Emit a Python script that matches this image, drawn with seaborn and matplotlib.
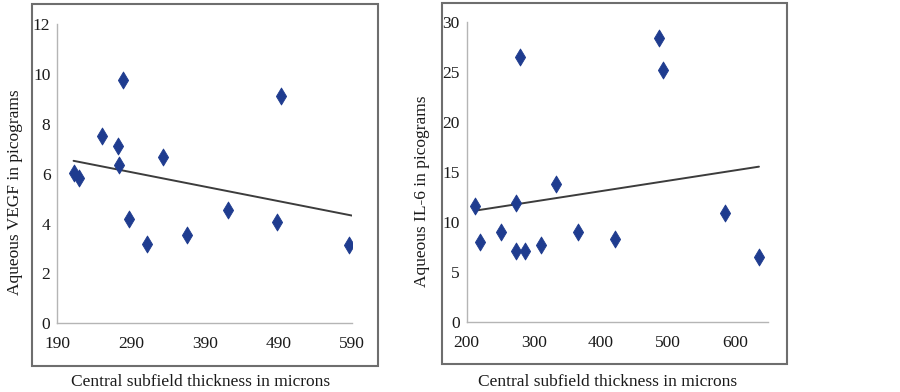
import matplotlib
matplotlib.use("Agg")
import matplotlib.pyplot as plt
from matplotlib.patches import Rectangle
import seaborn as sns
import pandas as pd

# --- data ---
vegf_thickness = [212, 220, 250, 272, 274, 279, 287, 311, 333, 366, 421, 488, 493, 585]
vegf_pg = [6.02, 5.85, 7.53, 7.12, 6.37, 9.76, 4.20, 3.20, 6.68, 3.56, 4.54, 4.06, 9.12, 3.16]
vegf_trend_x = [212, 590]
vegf_trend_y = [6.52, 4.32]

il6_thickness = [212, 220, 251, 273, 274, 279.5, 287.5, 311, 333.5, 366, 421, 487.5, 493.4, 585, 636]
il6_pg = [11.65, 8.0, 9.0, 11.95, 7.1, 26.5, 7.1, 7.75, 13.8, 9.0, 8.35, 28.4, 25.2, 10.95, 6.52]
il6_trend_x = [212, 636]
il6_trend_y = [11.15, 15.55]

vegf_xticks = [190, 290, 390, 490, 590]
vegf_yticks = [0, 2, 4, 6, 8, 10, 12]
il6_xticks = [200, 300, 400, 500, 600]
il6_yticks = [0, 5, 10, 15, 20, 25, 30]

XLABEL = "Central subfield thickness in microns"

sns.set_style("white")
plt.rcParams['font.family'] = ['Liberation Serif', 'DejaVu Serif']

MARKER_COLOR = "#1f3c8f"
AXIS_COLOR = "#b5b5b5"
FS = 12.5

fig = plt.figure(figsize=(9, 3.92), dpi=100)

# outer frames around each panel
fig.add_artist(Rectangle((0.0356, 0.0663), 0.3844, 0.9235, transform=fig.transFigure,
                         fill=False, edgecolor="#6e6e6e", linewidth=1.5))
fig.add_artist(Rectangle((0.4911, 0.0714), 0.3833, 0.9210, transform=fig.transFigure,
                         fill=False, edgecolor="#6e6e6e", linewidth=1.5))

ax1 = fig.add_axes([0.0637, 0.1753, 0.3278, 0.7628])
ax2 = fig.add_axes([0.5186, 0.1778, 0.3351, 0.7660])


def draw_panel(ax, x, y, tx, ty, xlim, ylim, xticks, yticks, ylabel, xlab_pos, ylab_pos):
    df = pd.DataFrame({'x': x, 'y': y})
    sns.scatterplot(data=df, x='x', y='y', ax=ax, marker='d', s=75,
                    color=MARKER_COLOR, edgecolor=MARKER_COLOR, linewidth=0.6, zorder=3)
    ax.plot(tx, ty, color="#3c3c3c", linewidth=1.4, zorder=2)
    ax.set_xlim(*xlim)
    ax.set_ylim(*ylim)
    ax.set_xticks(xticks)
    ax.set_yticks(yticks)
    for side in ['top', 'right']:
        ax.spines[side].set_visible(False)
    for side in ['left', 'bottom']:
        ax.spines[side].set_color(AXIS_COLOR)
        ax.spines[side].set_linewidth(1.0)
    ax.tick_params(axis='both', direction='out', length=3, width=0.8,
                   color=AXIS_COLOR, labelsize=FS, labelcolor="#1a1a1a")
    ax.tick_params(axis='x', pad=6)
    ax.tick_params(axis='y', pad=2)
    ax.set_xlabel(XLABEL, fontsize=FS, color="#1a1a1a")
    ax.set_ylabel(ylabel, fontsize=FS, color="#1a1a1a")
    ax.xaxis.set_label_coords(*xlab_pos)
    ax.yaxis.set_label_coords(*ylab_pos)
    ax.patch.set_alpha(0)


draw_panel(ax1, vegf_thickness, vegf_pg, vegf_trend_x, vegf_trend_y,
           (190, 590), (0, 12), vegf_xticks, vegf_yticks,
           "Aqueous VEGF in picograms", (0.485, -0.17), (-0.116, 0.44))
draw_panel(ax2, il6_thickness, il6_pg, il6_trend_x, il6_trend_y,
           (200, 650), (0, 30), il6_xticks, il6_yticks,
           "Aqueous IL-6 in picograms", (0.467, -0.172), (-0.122, 0.435))

fig.savefig("out.png", dpi=100)
